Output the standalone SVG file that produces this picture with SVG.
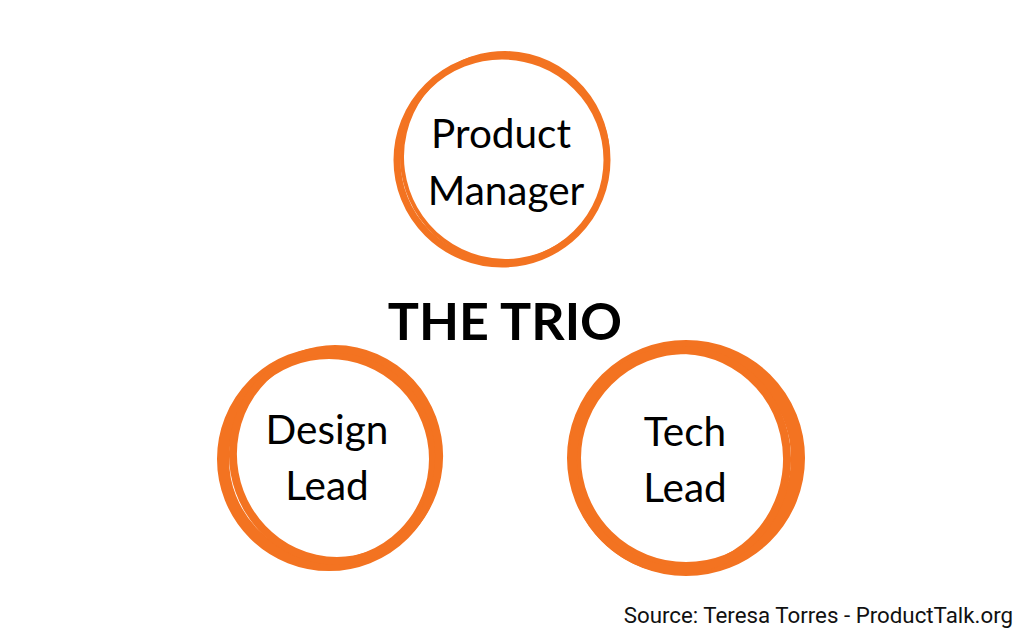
<svg xmlns="http://www.w3.org/2000/svg" width="1024" height="640" viewBox="0 0 1024 640">
<style>
.ring{fill:none;stroke:#f37321;stroke-linecap:round}
.lbl{font-family:Lato,"Noto Sans",sans-serif;font-size:40.5px;fill:#000;text-anchor:middle}
.title{font-family:Lato,"Noto Sans",sans-serif;font-size:52px;font-weight:bold;fill:#000;text-anchor:middle}
.src{font-family:Roboto,"Liberation Sans",sans-serif;font-size:22.3px;fill:#111;text-anchor:end}
</style>
<rect width="1024" height="640" fill="#fff"/>
<g id="product-manager">
<ellipse class="ring" cx="502" cy="160" rx="105" ry="104" stroke-width="7"/>
<ellipse class="ring" cx="505" cy="157" rx="103" ry="104" stroke-width="4" transform="rotate(-8 505 157)"/>
<text class="lbl" x="501" y="148">Product</text>
<text class="lbl" x="506" y="205">Manager</text>
</g>
<g id="title">
<text class="title" x="505" y="340">THE TRIO</text>
</g>
<g id="design-lead">
<ellipse class="ring" cx="329" cy="459" rx="106" ry="106" stroke-width="12"/>
<ellipse class="ring" cx="336" cy="455" rx="103" ry="106" stroke-width="8" transform="rotate(-10 336 455)"/>
<text class="lbl" x="327" y="444">Design</text>
<text class="lbl" x="327" y="500">Lead</text>
</g>
<g id="tech-lead">
<ellipse class="ring" cx="686" cy="458" rx="112" ry="111" stroke-width="14"/>
<ellipse class="ring" cx="680" cy="460" rx="107" ry="110" stroke-width="8" transform="rotate(8 680 460)"/>
<text class="lbl" x="685" y="446">Tech</text>
<text class="lbl" x="685" y="502">Lead</text>
</g>
<g id="source">
<text class="src" x="1013" y="623">Source: Teresa Torres - ProductTalk.org</text>
</g>
</svg>
